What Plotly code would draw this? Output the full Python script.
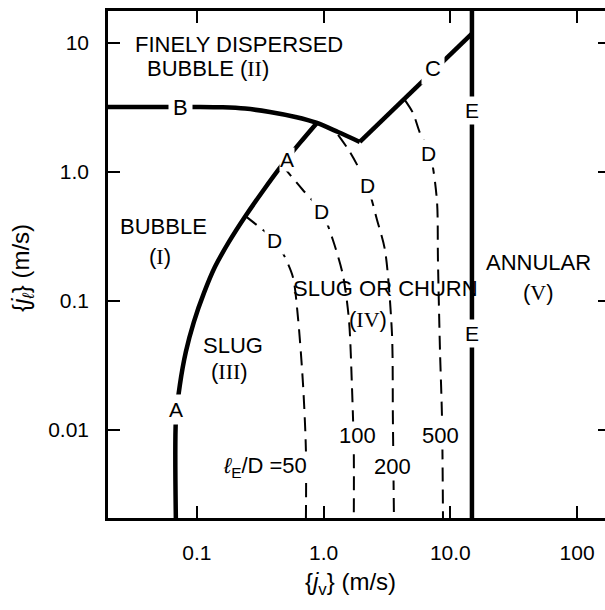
import math
import plotly.graph_objects as go

# ---------------- data ----------------
# boundary B (bubble -> finely dispersed bubble)
b_x = [0.0199, 0.054, 0.106, 0.16, 0.24, 0.377, 0.6, 0.887, 1.3, 1.93]
b_y = [3.19, 3.19, 3.19, 3.17, 3.1, 2.92, 2.67, 2.40, 2.04, 1.71]
# boundary C
c_x = [1.93, 14.8]
c_y = [1.71, 11.8]
# boundary A (bubble -> slug)
a_x = [0.885, 0.650, 0.469, 0.332, 0.239, 0.179, 0.139, 0.1136, 0.0946, 0.0818, 0.0734, 0.0683, 0.0683]
a_y = [2.40, 1.68, 1.13, 0.713, 0.448, 0.287, 0.184, 0.115, 0.0687, 0.0402, 0.0223, 0.0120, 0.0020]
# boundary E (annular)
e_x = [14.8, 14.8]
e_y = [20.0, 0.0020]
# boundaries D for several l_E/D values
d_labels = ["50", "100", "200", "500"]
d50_x = [0.242, 0.326, 0.413, 0.486, 0.573, 0.627, 0.687, 0.725, 0.725]
d50_y = [0.455, 0.361, 0.297, 0.227, 0.153, 0.0751, 0.0231, 0.0070, 0.0020]
d100_x = [0.47, 0.686, 0.97, 1.184, 1.42, 1.585, 1.67, 1.73, 1.73]
d100_y = [1.13, 0.725, 0.49, 0.297, 0.159, 0.0713, 0.0231, 0.0070, 0.0020]
d200_x = [1.30, 1.61, 2.20, 2.64, 3.05, 3.46, 3.52, 3.59]
d200_y = [1.94, 1.43, 0.793, 0.425, 0.248, 0.0565, 0.0126, 0.0020]
d500_x = [4.38, 5.07, 5.75, 6.90, 7.83, 7.98, 8.28, 8.59, 8.75]
d500_y = [3.61, 2.87, 2.01, 1.40, 0.607, 0.208, 0.0417, 0.0126, 0.0020]

x_tickvals = [0.1, 1.0, 10.0, 100.0]
x_ticktext = ["0.1", "1.0", "10.0", "100"]
y_tickvals = [0.01, 0.1, 1.0, 10.0]
y_ticktext = ["0.01", "0.1", "1.0", "10"]
x_range = [0.0199, 166.0]
y_range = [0.00208, 17.7]

# ---------------- figure ----------------
FONT = "Liberation Sans"
SERIF = "Liberation Serif"
THICK = 4.5
DASH = dict(color="black", width=2, dash="14px,8px")

fig = go.Figure()

def add_line(x, y, line, shape="spline"):
    fig.add_trace(go.Scatter(x=x, y=y, mode="lines", line=dict(shape=shape, smoothing=0.8, **line),
                             showlegend=False, hoverinfo="skip"))

add_line(b_x, b_y, dict(color="black", width=THICK))
add_line(c_x, c_y, dict(color="black", width=THICK), shape="linear")
add_line(a_x, a_y, dict(color="black", width=THICK))
add_line(e_x, e_y, dict(color="black", width=THICK), shape="linear")
for dx, dy in [(d50_x, d50_y), (d100_x, d100_y), (d200_x, d200_y), (d500_x, d500_y)]:
    add_line(dx, dy, DASH)

def roman(s):
    return "(<span style='font-family:%s'>%s</span>)" % (SERIF, s)

def label(text, x, y, size=21, bg=None, xanchor="center", pad=1):
    kw = dict(text=text, x=math.log10(x), y=math.log10(y), xref="x", yref="y",
              showarrow=False, xanchor=xanchor, yanchor="middle",
              font=dict(family=FONT, size=size, color="black"), borderpad=pad)
    if bg:
        kw["bgcolor"] = bg
    fig.add_annotation(**kw)

# region labels
label("FINELY DISPERSED", 0.0313, 9.65, size=22, xanchor="left")
label("BUBBLE " + roman("II"), 0.0388, 6.4, size=22, xanchor="left")
label("BUBBLE", 0.0548, 0.375, size=22)
label(roman("I"), 0.0513, 0.223, size=22)
label("SLUG", 0.192, 0.0456, size=22)
label(roman("III"), 0.182, 0.0282, size=22)
label("SLUG OR CHURN", 3.10, 0.126, size=22)
label(roman("IV"), 2.24, 0.0713, size=22)
label("ANNULAR", 49.2, 0.200, size=22)
label(roman("V"), 49.2, 0.117, size=22)

# curve letters (masking the lines like the original)
label("B", 0.0748, 3.19, size=22, bg="white", pad=4)
label("A", 0.513, 1.24, size=21, bg="white", pad=0)
label("A", 0.0690, 0.0143, size=21, bg="white", pad=3)
label("C", 7.29, 6.4, size=22, bg="white", pad=3)
label("E", 14.8, 3.02, size=21, bg="white", pad=2)
label("E", 14.8, 0.0565, size=21, bg="white", pad=2)
label("D", 0.413, 0.297, size=21, bg="white", pad=2)
label("D", 0.97, 0.49, size=21, bg="white", pad=2)
label("D", 2.20, 0.793, size=21, bg="white", pad=2)
label("D", 6.78, 1.40, size=21, bg="white", pad=2)

# l_E/D values
label("<i>ℓ</i><sub>E</sub>/D =" + d_labels[0], 0.344, 0.00517, size=22, bg="white", pad=1)
label(d_labels[1], 1.84, 0.00915, size=22, bg="white", pad=1)
label(d_labels[2], 3.47, 0.00517, size=22, bg="white", pad=1)
label(d_labels[3], 8.31, 0.00915, size=22, bg="white", pad=1)

# axis titles
fig.add_annotation(text="{<i>j</i><sub>v</sub>} (m/s)", xref="paper", yref="paper",
                   x=0.487, y=-0.130, showarrow=False, xanchor="center", yanchor="middle",
                   font=dict(family=FONT, size=24, color="black"))
fig.add_annotation(text="{<i>j</i><sub><i>ℓ</i></sub>} (m/s)", xref="paper", yref="paper",
                   x=-0.173, y=0.493, showarrow=False, xanchor="center", yanchor="middle",
                   textangle=-90, font=dict(family=FONT, size=24, color="black"))

axis_common = dict(type="log", showgrid=False, zeroline=False, ticks="inside", ticklen=12,
                   tickwidth=2, tickcolor="black", linecolor="black", linewidth=2.5,
                   tickfont=dict(family=FONT, size=21, color="black"))

fig.update_layout(
    width=605, height=610,
    margin=dict(l=108, r=0, t=11, b=92),
    paper_bgcolor="white", plot_bgcolor="white",
    showlegend=False,
    xaxis=dict(range=[math.log10(v) for v in x_range], tickvals=x_tickvals, ticktext=x_ticktext,
               showline=True, mirror="ticks", ticklabelstandoff=14, **axis_common),
    yaxis=dict(range=[math.log10(v) for v in y_range], tickvals=y_tickvals, ticktext=y_ticktext,
               showline=True, mirror=False, ticklabelstandoff=12, **axis_common),
    yaxis2=dict(type="log", overlaying="y", side="right", range=[math.log10(v) for v in y_range],
                tickvals=y_tickvals, showticklabels=False, ticks="inside", ticklen=7, tickwidth=2,
                tickcolor="black", showline=False, showgrid=False, zeroline=False),
)
# invisible trace so that the right-hand axis is drawn
fig.add_trace(go.Scatter(x=[x_range[0]], y=[y_range[0]], yaxis="y2", mode="markers",
                         marker=dict(opacity=0), showlegend=False, hoverinfo="skip"))

fig.write_html("out.html", config={"displayModeBar": False},
               post_script="document.body.style.margin='0px';document.body.style.overflow='hidden';")
